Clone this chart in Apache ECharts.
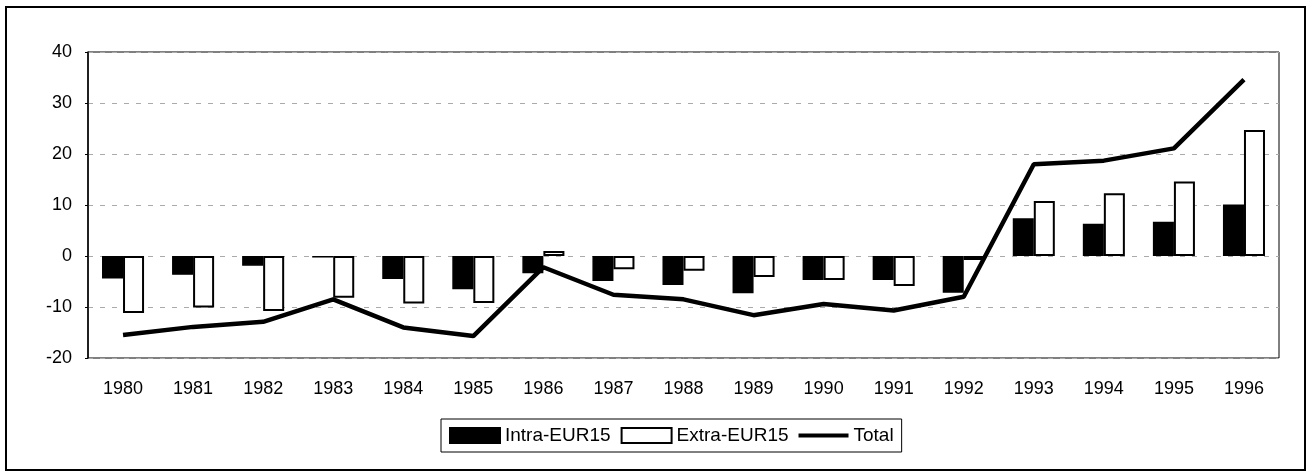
<!DOCTYPE html>
<html>
<head>
<meta charset="utf-8">
<script src="https://cdn.jsdelivr.net/npm/echarts@6/dist/echarts.min.js"></script>
<style>
  html, body { margin: 0; padding: 0; background: #fff; }
  #chart { width: 1312px; height: 473px; }
</style>
</head>
<body>
<div id="chart"></div>
<script>
const years = ['1980', '1981', '1982', '1983', '1984', '1985', '1986', '1987', '1988',
    '1989', '1990', '1991', '1992', '1993', '1994', '1995', '1996'];
const intraEur15 = [-4.4, -3.7, -1.9, -0.3, -4.5, -6.5, -3.4, -4.9, -5.7,
    -7.3, -4.7, -4.7, -7.2, 7.4, 6.3, 6.7, 10.1];
const extraEur15 = [-11.2, -10.1, -10.8, -8.2, -9.3, -9.2, 1.0, -2.6, -2.9,
    -4.1, -4.7, -5.9, -0.8, 10.8, 12.3, 14.6, 24.7];
const total = [-15.5, -13.9, -12.9, -8.5, -14.0, -15.7, -2.2, -7.6, -8.5,
    -11.6, -9.4, -10.7, -8.0, 18.0, 18.7, 21.1, 34.6];

const font = 'Liberation Sans, Arial, Helvetica, sans-serif';
// thick line glyph for the legend, the moveTo points keep the box 15 high
const lineIcon = 'path://M0,0 L0,0 M0,5.5 L50,5.5 L50,9.5 L0,9.5 Z M50,15 L50,15';

const myChart = echarts.init(document.getElementById('chart'), null, { renderer: 'canvas' });
const option = {
    backgroundColor: '#fff',
    animation: false,
    graphic: [{
        type: 'rect',
        shape: { x: 6, y: 7, width: 1299, height: 463 },
        style: { fill: 'none', stroke: '#000', lineWidth: 2 },
        silent: true
    }],
    grid: {
        left: 88,
        right: 33,
        top: 52,
        bottom: 115,
        show: true,
        borderColor: '#000',
        borderWidth: 1,
        backgroundColor: '#fff'
    },
    legend: {
        left: 441,
        top: 419,
        padding: [7, 8],
        itemWidth: 50,
        itemHeight: 15,
        itemGap: 10,
        borderColor: '#000',
        borderWidth: 1,
        borderRadius: 0,
        textStyle: { fontFamily: font, fontSize: 19, color: '#000', padding: [0, 0, 0, 0] },
        data: [
            { name: 'Intra-EUR15', icon: 'rect' },
            { name: 'Extra-EUR15', icon: 'rect' },
            { name: 'Total', icon: lineIcon, itemStyle: { color: '#000', borderWidth: 0 } }
        ]
    },
    xAxis: {
        type: 'category',
        data: years,
        axisLine: { show: false, onZero: false },
        axisTick: { show: false },
        axisLabel: { fontFamily: font, fontSize: 18, color: '#000', margin: 22 }
    },
    yAxis: {
        type: 'value',
        min: -20,
        max: 40,
        interval: 10,
        axisLine: { show: true, lineStyle: { color: '#000', width: 1.5 } },
        axisTick: { show: true, length: 3, lineStyle: { color: '#000' } },
        axisLabel: { fontFamily: font, fontSize: 18, color: '#000', margin: 16 },
        splitLine: { show: true, lineStyle: { color: '#aaa', width: 1, type: [5, 7] } }
    },
    series: [
        {
            name: 'Intra-EUR15',
            type: 'bar',
            data: intraEur15,
            barGap: '0%',
            barCategoryGap: '40%',
            itemStyle: { color: '#000', borderColor: '#000', borderWidth: 1.5 }
        },
        {
            name: 'Extra-EUR15',
            type: 'bar',
            data: extraEur15,
            itemStyle: { color: '#fff', borderColor: '#000', borderWidth: 2 }
        },
        {
            name: 'Total',
            type: 'line',
            data: total,
            symbol: 'none',
            z: 5,
            itemStyle: { color: '#000' },
            lineStyle: { color: '#000', width: 4.5 }
        }
    ]
};

option && myChart.setOption(option);
</script>
</body>
</html>
